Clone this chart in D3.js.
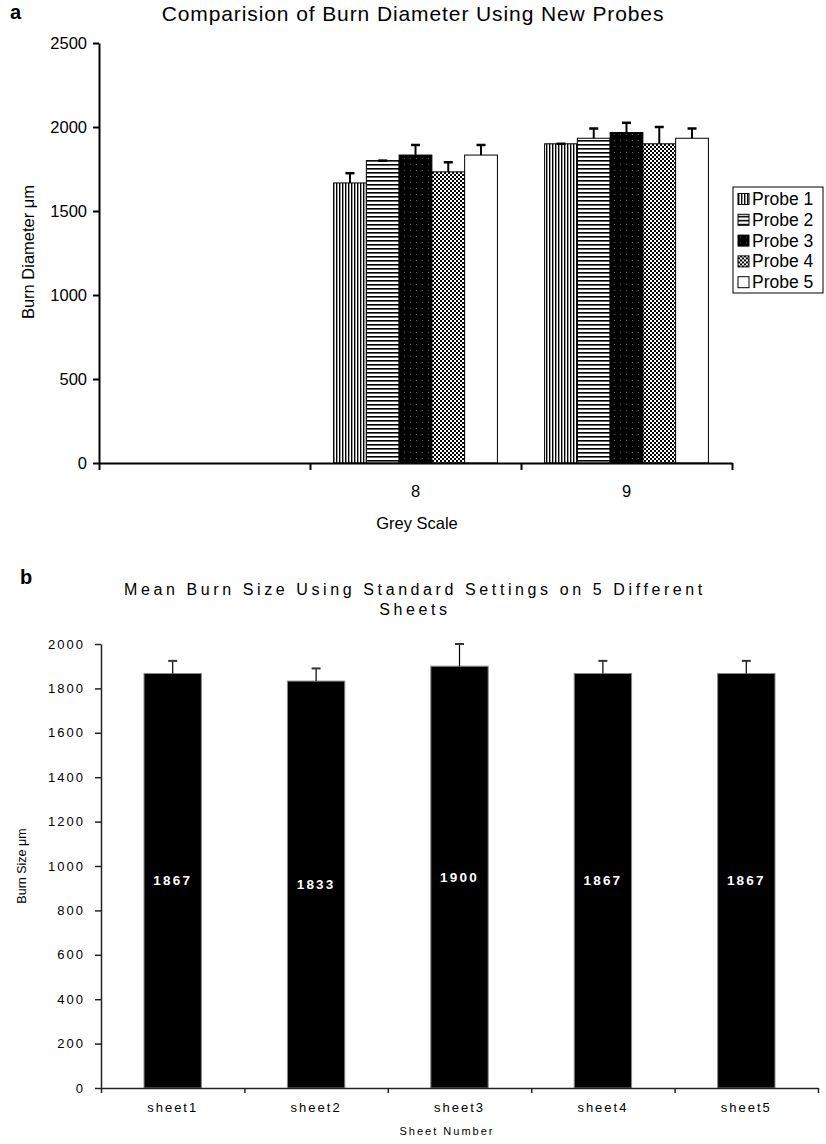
<!DOCTYPE html>
<html>
<head>
<meta charset="utf-8">
<script src="https://cdn.jsdelivr.net/npm/d3@7"></script>
<style>
  body { margin: 0; background: #fff; }
  svg text { font-family: "Liberation Sans", Arial, sans-serif; }
</style>
</head>
<body>
<div id="chart"></div>
<script>
// ---- data ----
var greyScales = ["", "8", "9"];
var probes = ["Probe 1", "Probe 2", "Probe 3", "Probe 4", "Probe 5"];
var meanGrey8 = [1667, 1800, 1833, 1733, 1833];
var errGrey8 = [58, 0, 60, 57, 60];
var meanGrey9 = [1900, 1933, 1967, 1900, 1933];
var errGrey9 = [0, 58, 58, 100, 58];

var sheets = ["sheet1", "sheet2", "sheet3", "sheet4", "sheet5"];
var sheetMeans = [1867, 1833, 1900, 1867, 1867];
var sheetErrs = [57, 57, 100, 57, 57];

var yTicksA = [0, 500, 1000, 1500, 2000, 2500];
var yTicksB = [0, 200, 400, 600, 800, 1000, 1200, 1400, 1600, 1800, 2000];

var W = 826, H = 1144;
var svg = d3.select("#chart").append("svg")
    .attr("width", W)
    .attr("height", H);

// fill patterns for the probes
var defs = svg.append("defs");
var p1 = defs.append("pattern").attr("id", "pat1")
    .attr("patternUnits", "userSpaceOnUse").attr("width", 3).attr("height", 3);
p1.append("rect").attr("width", 3).attr("height", 3).attr("fill", "#fff");
p1.append("rect").attr("x", 0).attr("width", 1.4).attr("height", 3).attr("fill", "#000");

var p2 = defs.append("pattern").attr("id", "pat2")
    .attr("patternUnits", "userSpaceOnUse").attr("width", 4).attr("height", 4);
p2.append("rect").attr("width", 4).attr("height", 4).attr("fill", "#fff");
p2.append("rect").attr("y", 0).attr("width", 4).attr("height", 1.6).attr("fill", "#000");

var p3 = defs.append("pattern").attr("id", "pat3")
    .attr("patternUnits", "userSpaceOnUse").attr("width", 6).attr("height", 6);
p3.append("rect").attr("width", 6).attr("height", 6).attr("fill", "#000");
p3.append("rect").attr("x", 2).attr("y", 2).attr("width", 1).attr("height", 1).attr("fill", "#555");

var p4 = defs.append("pattern").attr("id", "pat4")
    .attr("patternUnits", "userSpaceOnUse").attr("width", 4).attr("height", 4);
p4.append("rect").attr("width", 4).attr("height", 4).attr("fill", "#fff");
p4.append("rect").attr("width", 2).attr("height", 2).attr("fill", "#000");
p4.append("rect").attr("x", 2).attr("y", 2).attr("width", 2).attr("height", 2).attr("fill", "#000");

var probeFills = ["url(#pat1)", "url(#pat2)", "url(#pat3)", "url(#pat4)", "#fff"];

// 					******* PANEL a *******
var a = {left: 99, right: 732, top: 43, bottom: 463};

var xA = d3.scaleBand()
    .domain(greyScales)
    .range([a.left, a.right]);
var xA1 = d3.scaleBand()
    .domain(probes)
    .range([0, xA.bandwidth()])
    .paddingOuter(0.72);
var yA = d3.scaleLinear()
    .domain([0, 2500])
    .range([a.bottom, a.top]);

var gA = svg.append("g");

// build grouped rows from the arrays
var rowsA = [];
probes.forEach(function(p, i) {
    rowsA.push({grey: "8", probe: p, mean: meanGrey8[i], err: errGrey8[i], fill: probeFills[i]});
    rowsA.push({grey: "9", probe: p, mean: meanGrey9[i], err: errGrey9[i], fill: probeFills[i]});
});

gA.selectAll("rect.bar")
    .data(rowsA)
  .enter().append("rect")
    .attr("class", "bar")
    .attr("x", function(d) { return xA(d.grey) + xA1(d.probe); })
    .attr("y", function(d) { return yA(d.mean); })
    .attr("width", xA1.bandwidth())
    .attr("height", function(d) { return yA(0) - yA(d.mean); })
    .attr("fill", function(d) { return d.fill; })
    .attr("stroke", "#000")
    .attr("stroke-width", 1);

// error bars (upper half only)
var errA = gA.selectAll("g.err")
    .data(rowsA)
  .enter().append("g")
    .attr("class", "err")
    .attr("transform", function(d) {
        return "translate(" + (xA(d.grey) + xA1(d.probe) + xA1.bandwidth() / 2) + ",0)";
    });
errA.append("line")
    .attr("y1", function(d) { return yA(d.mean); })
    .attr("y2", function(d) { return yA(d.mean + d.err); })
    .attr("stroke", "#000")
    .attr("stroke-width", 2);
errA.append("line")
    .attr("x1", -4.5).attr("x2", 4.5)
    .attr("y1", function(d) { return yA(d.mean + d.err); })
    .attr("y2", function(d) { return yA(d.mean + d.err); })
    .attr("stroke", "#000")
    .attr("stroke-width", 2.5);

// axes
var yAxisA = d3.axisLeft(yA).tickValues(yTicksA).tickFormat(d3.format("d"))
    .tickSize(6).tickSizeOuter(0).tickPadding(6);
gA.append("g")
    .attr("transform", "translate(" + a.left + ",0)")
    .call(yAxisA);

var tickPosA = d3.scaleLinear().domain([0, greyScales.length]).range([a.left, a.right]);
gA.append("g")
    .attr("transform", "translate(0," + a.bottom + ")")
    .call(d3.axisBottom(tickPosA).tickValues(d3.range(greyScales.length + 1)).tickFormat("").tickSize(7).tickSizeOuter(0));
gA.append("g")
    .attr("class", "xlabels")
    .attr("transform", "translate(0," + a.bottom + ")")
    .call(d3.axisBottom(xA).tickSize(0).tickPadding(22))
    .select(".domain").remove();

gA.selectAll(".domain").attr("stroke", "#000").attr("stroke-width", 2);
gA.selectAll(".tick line").attr("stroke", "#000").attr("stroke-width", 2);
gA.selectAll(".tick text").style("font-size", "16.5px").attr("fill", "#000");

gA.append("text")
    .attr("x", 417).attr("y", 529)
    .attr("text-anchor", "middle")
    .style("font-size", "16.5px")
    .text("Grey Scale");

gA.append("text")
    .attr("transform", "translate(34,252) rotate(-90)")
    .attr("text-anchor", "middle")
    .style("font-size", "16.5px")
    .text("Burn Diameter μm");

gA.append("text")
    .attr("x", 413).attr("y", 21)
    .attr("text-anchor", "middle")
    .style("font-size", "21px")
    .style("letter-spacing", "0.9px")
    .text("Comparision of Burn Diameter Using New Probes");

svg.append("text")
    .attr("x", 10).attr("y", 19)
    .style("font-size", "20px")
    .style("font-weight", "bold")
    .text("a");

// legend
var legend = gA.append("g").attr("transform", "translate(733,187)");
legend.append("rect")
    .attr("width", 90).attr("height", 106)
    .attr("fill", "#fff").attr("stroke", "#000").attr("stroke-width", 1);
var legItems = legend.selectAll("g.leg")
    .data(probes)
  .enter().append("g")
    .attr("class", "leg")
    .attr("transform", function(d, i) { return "translate(5," + (12 + i * 20.8) + ")"; });
legItems.append("rect")
    .attr("x", 0).attr("y", -5.5)
    .attr("width", 11).attr("height", 11)
    .attr("fill", function(d, i) { return probeFills[i]; })
    .attr("stroke", "#000");
legItems.append("text")
    .attr("x", 14).attr("y", 6)
    .style("font-size", "17.5px")
    .text(function(d) { return d; });

// 					******* PANEL b *******
var b = {left: 101, right: 818, top: 644, bottom: 1088};

var xB = d3.scaleBand()
    .domain(sheets)
    .range([b.left, b.right])
    .paddingInner(0.6)
    .paddingOuter(0.3);
var yB = d3.scaleLinear()
    .domain([0, 2000])
    .range([b.bottom, b.top]);

var gB = svg.append("g");

gB.selectAll("rect.bar")
    .data(sheets)
  .enter().append("rect")
    .attr("class", "bar")
    .attr("x", function(d) { return xB(d); })
    .attr("y", function(d, i) { return yB(sheetMeans[i]); })
    .attr("width", xB.bandwidth())
    .attr("height", function(d, i) { return yB(0) - yB(sheetMeans[i]); })
    .attr("fill", "#000")
    .attr("stroke", "#888")
    .attr("stroke-width", 1);

var errB = gB.selectAll("g.err")
    .data(sheets)
  .enter().append("g")
    .attr("class", "err")
    .attr("transform", function(d) { return "translate(" + (xB(d) + xB.bandwidth() / 2) + ",0)"; });
errB.append("line")
    .attr("y1", function(d, i) { return yB(sheetMeans[i]); })
    .attr("y2", function(d, i) { return yB(sheetMeans[i] + sheetErrs[i]); })
    .attr("stroke", "#000")
    .attr("stroke-width", 1.2);
errB.append("line")
    .attr("x1", -4.5).attr("x2", 4.5)
    .attr("y1", function(d, i) { return yB(sheetMeans[i] + sheetErrs[i]); })
    .attr("y2", function(d, i) { return yB(sheetMeans[i] + sheetErrs[i]); })
    .attr("stroke", "#333")
    .attr("stroke-width", 2);

// value labels in the middle of each bar
gB.selectAll("text.val")
    .data(sheets)
  .enter().append("text")
    .attr("class", "val")
    .attr("x", function(d) { return xB(d) + xB.bandwidth() / 2; })
    .attr("y", function(d, i) { return yB(sheetMeans[i] / 2); })
    .attr("dy", "0.35em")
    .attr("text-anchor", "middle")
    .attr("fill", "#fff")
    .style("font-size", "13.5px")
    .style("font-weight", "bold")
    .style("letter-spacing", "2.2px")
    .text(function(d, i) { return sheetMeans[i]; });

var yAxisB = d3.axisLeft(yB).tickValues(yTicksB).tickFormat(d3.format("d"))
    .tickSize(6).tickSizeOuter(0).tickPadding(10);
gB.append("g")
    .attr("transform", "translate(" + b.left + ",0)")
    .call(yAxisB);

var tickPosB = d3.scaleLinear().domain([0, sheets.length]).range([b.left, b.right]);
gB.append("g")
    .attr("transform", "translate(0," + b.bottom + ")")
    .call(d3.axisBottom(tickPosB).tickValues(d3.range(sheets.length + 1)).tickFormat("").tickSize(5).tickSizeOuter(0));
gB.append("g")
    .attr("class", "xlabels")
    .attr("transform", "translate(0," + b.bottom + ")")
    .call(d3.axisBottom(xB).tickSize(0).tickPadding(15))
    .select(".domain").remove();

gB.selectAll(".domain").attr("stroke", "#222").attr("stroke-width", 1.5);
gB.selectAll(".tick line").attr("stroke", "#222").attr("stroke-width", 1.5);
gB.selectAll(".tick text")
    .style("font-size", "13px")
    .style("letter-spacing", "2px")
    .attr("fill", "#000");

gB.append("text")
    .attr("x", 447).attr("y", 1135)
    .attr("text-anchor", "middle")
    .style("font-size", "11px")
    .style("letter-spacing", "2px")
    .text("Sheet Number");

gB.append("text")
    .attr("transform", "translate(26,866) rotate(-90)")
    .attr("text-anchor", "middle")
    .style("font-size", "12.5px")
    .text("Burn Size μm");

var titleB = gB.append("text")
    .attr("text-anchor", "middle")
    .style("font-size", "16px")
    .style("letter-spacing", "3.6px");
titleB.append("tspan").attr("x", 415).attr("y", 595)
    .text("Mean Burn Size Using Standard Settings on 5 Different");
titleB.append("tspan").attr("x", 415).attr("y", 615)
    .text("Sheets");

svg.append("text")
    .attr("x", 20).attr("y", 584)
    .style("font-size", "20px")
    .style("font-weight", "bold")
    .text("b");
</script>
</body>
</html>
